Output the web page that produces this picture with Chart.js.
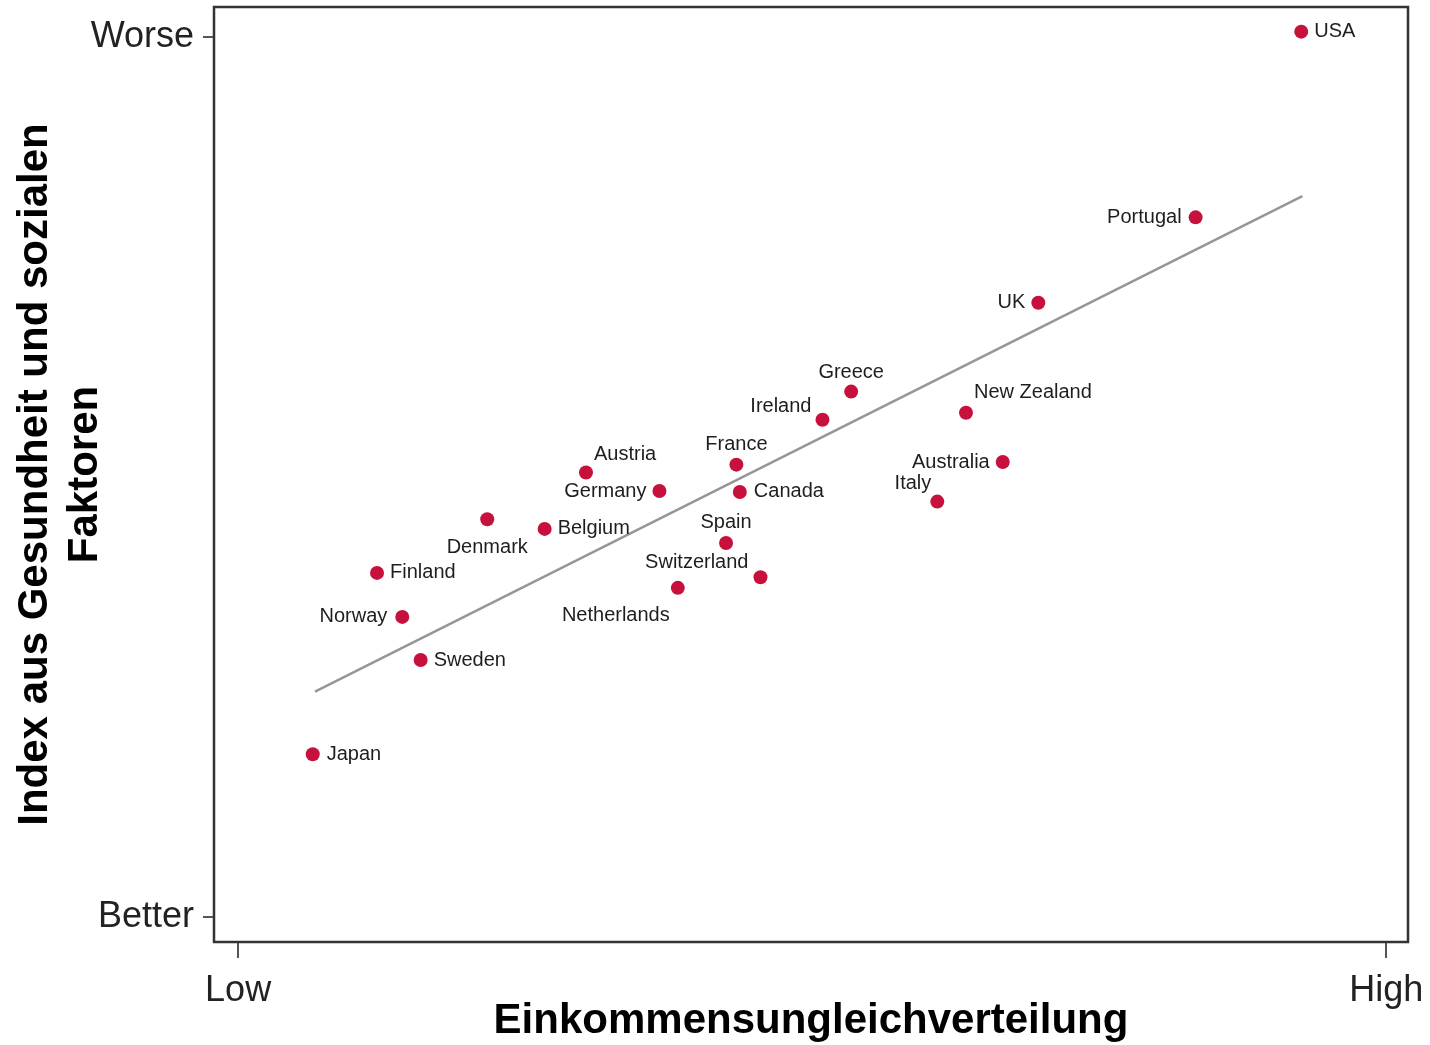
<!DOCTYPE html>
<html>
<head>
<meta charset="utf-8">
<script src="https://cdn.jsdelivr.net/npm/chart.js@4.4.1/dist/chart.umd.min.js"></script>
<style>
html, body { margin: 0; padding: 0; background: #fff; }
</style>
</head>
<body>
<canvas id="grafico" width="1430" height="1045"></canvas>
<script>
// Werte (0 = Low/Better, 100 = High/Worse)
var paises = ['USA', 'Portugal', 'UK', 'Greece', 'New Zealand', 'Ireland', 'Australia', 'France',
    'Austria', 'Germany', 'Canada', 'Italy', 'Denmark', 'Belgium', 'Spain', 'Finland',
    'Switzerland', 'Netherlands', 'Norway', 'Sweden', 'Japan'];
var ungleichheit = [92.6, 83.4, 69.7, 53.4, 63.4, 50.9, 66.6, 43.4,
    30.3, 36.7, 43.7, 60.9, 21.7, 26.7, 42.5, 12.1,
    45.5, 38.3, 14.3, 15.9, 6.5];
var indice = [100.6, 79.5, 69.8, 59.7, 57.3, 56.5, 51.7, 51.4,
    50.5, 48.4, 48.3, 47.2, 45.2, 44.1, 42.5, 39.1,
    38.6, 37.4, 34.1, 29.2, 18.5];
var trendX = [6.7, 92.7];
var trendY = [25.6, 81.9];
var xTickLabels = ['Low', 'High'];
var yTickLabels = ['Better', 'Worse'];

// Lage der Beschriftung relativ zum Punkt: [dx, dy, Ausrichtung]
var etiquetas = {
    'USA': [13, 0, 'left'],
    'Portugal': [-14, 0, 'right'],
    'UK': [-13, 0, 'right'],
    'Greece': [0, -19, 'center'],
    'New Zealand': [8, -20, 'left'],
    'Ireland': [-11, -13, 'right'],
    'Australia': [-13, 0, 'right'],
    'France': [0, -20, 'center'],
    'Austria': [8, -18, 'left'],
    'Germany': [-13, 0, 'right'],
    'Canada': [14, 0, 'left'],
    'Italy': [-6, -18, 'right'],
    'Denmark': [0, 28, 'center'],
    'Belgium': [13, 0, 'left'],
    'Spain': [0, -20, 'center'],
    'Finland': [13, 0, 'left'],
    'Switzerland': [-12, -15, 'right'],
    'Netherlands': [-62, 28, 'center'],
    'Norway': [-15, 0, 'right'],
    'Sweden': [13, 0, 'left'],
    'Japan': [14, 0, 'left']
};

var puntos = [];
for (var i = 0; i < paises.length; i++) {
    puntos.push({ x: ungleichheit[i], y: indice[i] });
}
var linea = [];
for (var j = 0; j < trendX.length; j++) {
    linea.push({ x: trendX[j], y: trendY[j] });
}

var marco = {
    id: 'marco',
    afterDraw: function(chart) {
        var a = chart.chartArea;
        var ctx = chart.ctx;
        ctx.save();
        ctx.strokeStyle = '#333';
        ctx.lineWidth = 2.5;
        ctx.strokeRect(a.left, a.top, a.right - a.left, a.bottom - a.top);
        ctx.restore();
    }
};

var nombres = {
    id: 'nombres',
    afterDatasetsDraw: function(chart) {
        var ctx = chart.ctx;
        var meta = chart.getDatasetMeta(1);
        ctx.save();
        ctx.font = '20px "Liberation Sans", Arial, sans-serif';
        ctx.fillStyle = '#1e1e1e';
        ctx.textBaseline = 'middle';
        meta.data.forEach(function(p, k) {
            var e = etiquetas[paises[k]];
            ctx.textAlign = e[2];
            ctx.fillText(paises[k], p.x + e[0], p.y + e[1]);
        });
        ctx.restore();
    }
};

new Chart(document.getElementById('grafico').getContext('2d'), {
    type: 'scatter',
    data: {
        datasets: [{
            type: 'line',
            data: linea,
            borderColor: 'rgba(150, 150, 150, 1)',
            borderWidth: 2.5,
            pointRadius: 0,
            fill: false
        }, {
            data: puntos,
            backgroundColor: 'rgba(200, 16, 60, 1)',
            borderWidth: 0,
            pointRadius: 7
        }]
    },
    options: {
        responsive: false,
        animation: false,
        layout: { padding: { left: 0, top: 7, right: 22, bottom: 0 } },
        scales: {
            x: {
                type: 'linear',
                min: -2.1,
                max: 101.9,
                afterBuildTicks: function(axis) {
                    axis.ticks = [{ value: 0 }, { value: 100 }];
                },
                afterFit: function(axis) {
                    axis.height = 103;
                    axis.paddingLeft = 0;
                    axis.paddingRight = 0;
                },
                ticks: {
                    padding: 11,
                    color: '#222',
                    font: { family: '"Liberation Sans", Arial, sans-serif', size: 36 },
                    callback: function(v, i) { return xTickLabels[i]; }
                },
                grid: { drawOnChartArea: false, tickLength: 16, tickColor: '#555', lineWidth: 2 },
                border: { display: false },
                title: {
                    display: true,
                    text: 'Einkommensungleichverteilung',
                    color: '#000',
                    padding: 0,
                    font: { family: '"Liberation Sans", Arial, sans-serif', size: 42, weight: 'bold', lineHeight: 1.1 }
                }
            },
            y: {
                type: 'linear',
                min: -2.84,
                max: 103.4,
                afterBuildTicks: function(axis) {
                    axis.ticks = [{ value: 0 }, { value: 100 }];
                },
                afterFit: function(axis) {
                    axis.width = 214;
                    axis.paddingTop = 0;
                    axis.paddingBottom = 0;
                },
                ticks: {
                    padding: 9,
                    color: '#222',
                    font: { family: '"Liberation Sans", Arial, sans-serif', size: 36 },
                    callback: function(v, i) { return yTickLabels[i]; }
                },
                grid: { drawOnChartArea: false, tickLength: 11, tickColor: '#555', lineWidth: 2 },
                border: { display: false },
                title: {
                    display: true,
                    text: ['Index aus Gesundheit und sozialen', 'Faktoren'],
                    color: '#000',
                    padding: { top: 10, bottom: 0 },
                    font: { family: '"Liberation Sans", Arial, sans-serif', size: 42, weight: 'bold', lineHeight: 1.2 }
                }
            }
        },
        plugins: {
            legend: { display: false },
            tooltip: { enabled: false }
        }
    },
    plugins: [marco, nombres]
});
</script>
</body>
</html>
